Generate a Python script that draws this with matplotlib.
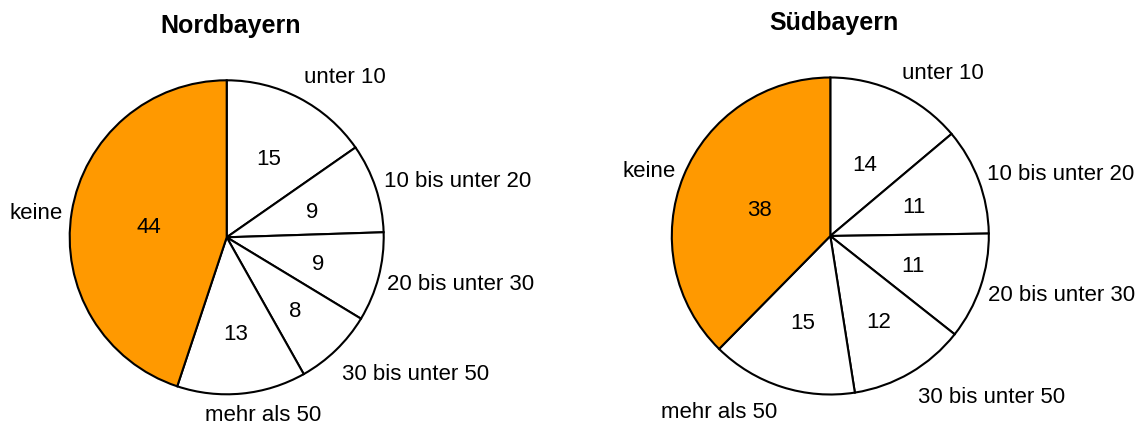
import numpy as np
import matplotlib.pyplot as plt

plt.rcParams['font.family'] = ['Liberation Sans', 'DejaVu Sans']

# Daten
kategorien = ['unter 10', '10 bis unter 20', '20 bis unter 30',
              '30 bis unter 50', 'mehr als 50', 'keine']
nord_werte = [15, 9, 9, 8, 13, 44]
sued_werte = [14, 11, 11, 12, 15, 38]
titel = ['Nordbayern', 'Südbayern']

farben = ['white'] * 5 + ['#FF9900']

# Layout (Pixel, y von unten)
W, H = 1139, 425
zentren = [(226.7, 187.7), (830.3, 189.0)]
radien = [157, 158.5]
titel_y = [399, 402.5]
text_dy = -3  # Text optisch mittig setzen

# Beschriftungen: Abstand (x Radius), Winkelversatz, Ausrichtung
nord_lab = [(1.15, 2.3, 'left'), (1.07, 2.3, 'left'), (1.057, -0.6, 'left'),
            (1.13, -3.4, 'left'), (1.14, 6.3, 'center'), (1.056, 0.0, 'right')]
sued_lab = [(1.136, 1.4, 'left'), (1.07, 1.7, 'left'), (1.06, -1.1, 'left'),
            (1.146, -1.3, 'left'), (1.142, 0.8, 'right'), (1.068, -1.4, 'right')]
nord_wert_abst = [0.58, 0.57, 0.60, 0.63, 0.60, 0.50]
sued_wert_abst = [0.51, 0.56, 0.55, 0.61, 0.56, 0.48]

fig = plt.figure(figsize=(W / 100, H / 100), dpi=100)
ax = fig.add_axes([0, 0, 1, 1])

for werte, c, r, t, ty, labs, wabst in zip(
        [nord_werte, sued_werte], zentren, radien, titel, titel_y,
        [nord_lab, sued_lab], [nord_wert_abst, sued_wert_abst]):
    wedges, _ = ax.pie(werte, colors=farben, startangle=90, counterclock=False,
                       center=c, radius=r, frame=True,
                       wedgeprops=dict(edgecolor='black', linewidth=1.5))
    for w, kat, wert, (d, off, ha), wd in zip(wedges, kategorien, werte, labs, wabst):
        mitte = np.deg2rad((w.theta1 + w.theta2) / 2)
        # Wert im Segment
        ax.text(c[0] + wd * r * np.cos(mitte),
                c[1] + wd * r * np.sin(mitte) + text_dy,
                str(wert), ha='center', va='center', fontsize=16)
        # Kategorie außen
        a = mitte + np.deg2rad(off)
        ax.text(c[0] + d * r * np.cos(a), c[1] + d * r * np.sin(a) + text_dy,
                kat, ha=ha, va='center', fontsize=16)
    ax.text(c[0] + 4, ty, t, ha='center', va='center', fontsize=18,
            fontweight='bold')

ax.set_xlim(0, W)
ax.set_ylim(0, H)
ax.set_aspect('equal')
ax.axis('off')

fig.savefig('out.png', dpi=100, facecolor='white')
